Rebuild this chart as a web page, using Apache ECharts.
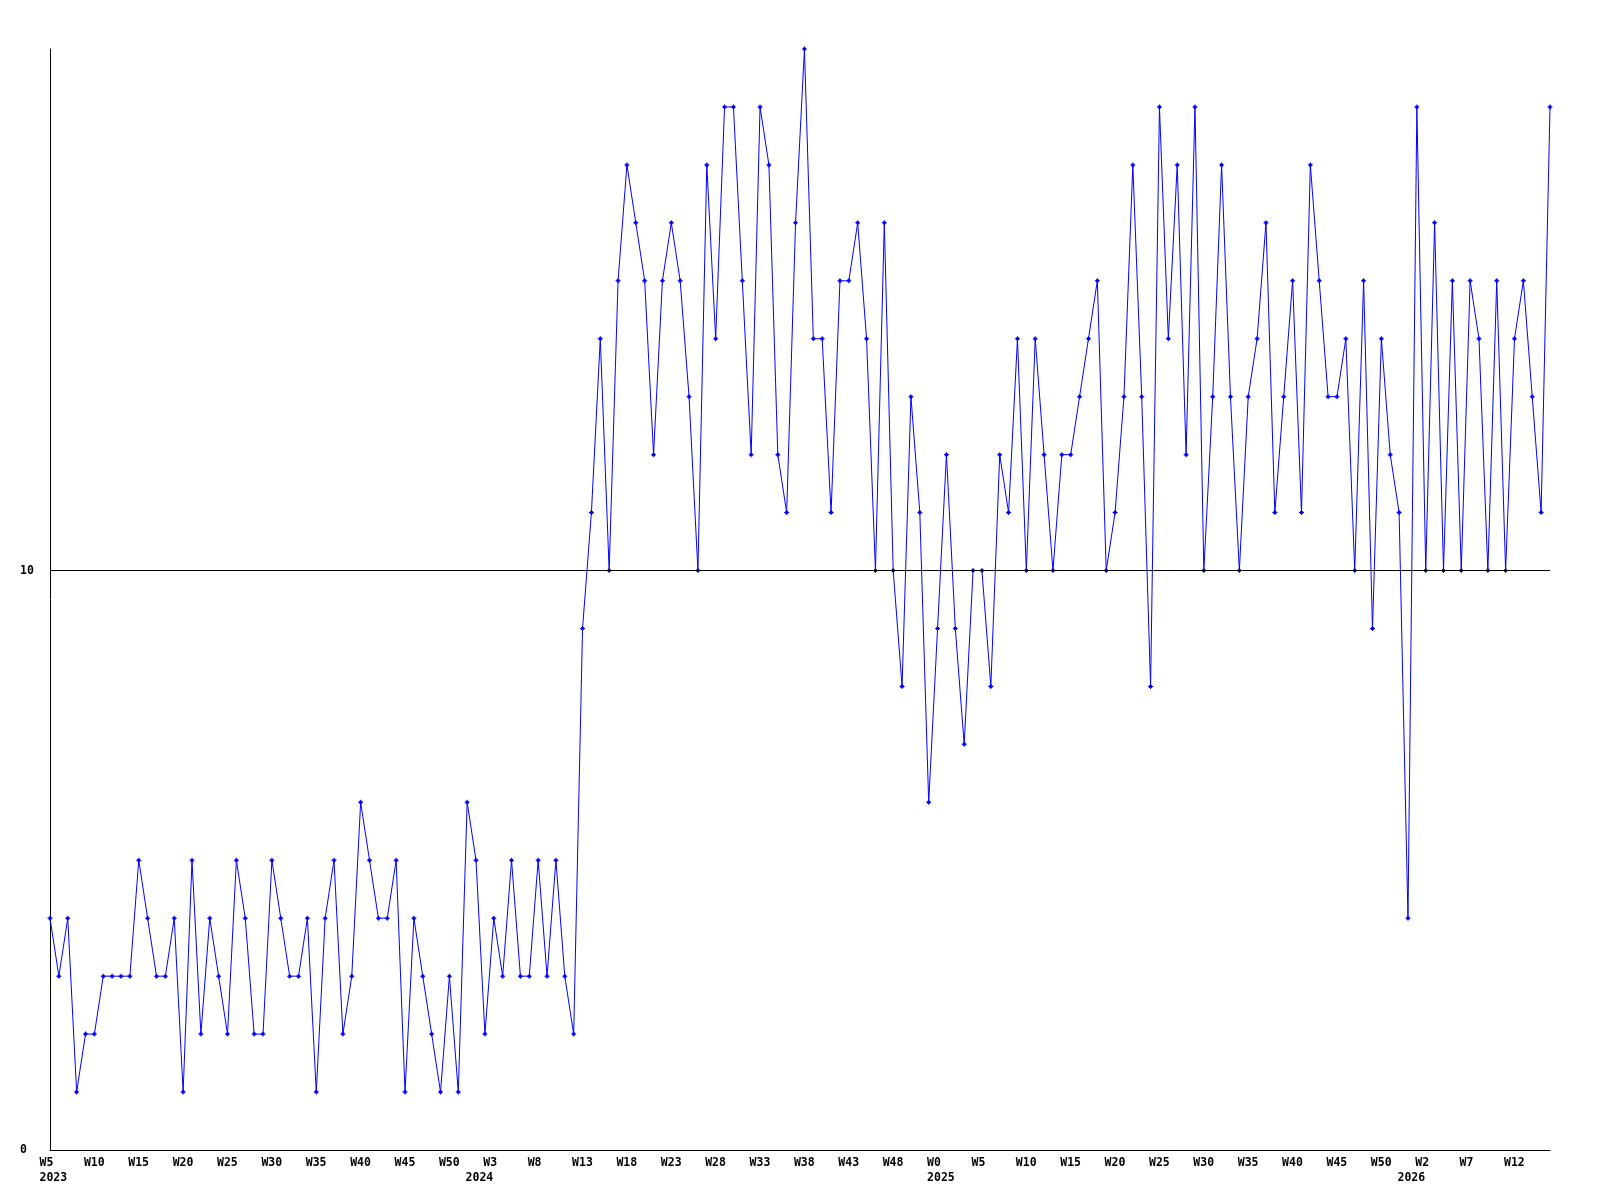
<!DOCTYPE html>
<html>
<head>
<meta charset="utf-8">
<script src="https://cdn.jsdelivr.net/npm/echarts@6/dist/echarts.min.js"></script>
<style>
html,body{margin:0;padding:0;background:#fff;}
#chart{width:1600px;height:1200px;}
</style>
</head>
<body>
<div id="chart"></div>
<script>
// Week segments per year (week numbers as printed on the axis)
const years = [2023, 2024, 2025, 2026];
const firstWeek = [5, 1, 0, 0];
const lastWeek = [52, 52, 52, 16];

// Weekly values, one per category
const values = [
  4,3,4,1,2,2,3,3,3,3,
  5,4,3,3,4,1,5,2,4,3,
  2,5,4,2,2,5,4,3,3,4,
  1,4,5,2,3,6,5,4,4,5,
  1,4,3,2,1,3,1,6,5,2,
  4,3,5,3,3,5,3,5,3,2,
  9,11,14,10,15,17,16,15,12,15,
  16,15,13,10,17,14,18,18,15,12,
  18,17,12,11,16,19,14,14,11,15,
  15,16,14,10,16,10,8,13,11,6,
  9,12,9,7,10,10,8,12,11,14,
  10,14,12,10,12,12,13,14,15,10,
  11,13,17,13,8,18,14,17,12,18,
  10,13,17,13,10,13,14,16,11,13,
  15,11,17,15,13,13,14,10,15,9,
  14,12,11,4,18,10,16,10,15,10,
  15,14,10,15,10,14,15,13,11,18
];

const yMin = 0, yMax = 19, yInterval = 10;
const refLineValue = 10;

// Build categories
const weekLabels = [];
const yearLabels = [];
for (let y = 0; y < years.length; y++) {
  for (let w = firstWeek[y]; w <= lastWeek[y]; w++) {
    weekLabels.push('W' + w);
    yearLabels.push(w === firstWeek[y] ? String(years[y]) : '');
  }
}
const categories = weekLabels.map((w, i) => i);

const FONT = "'DejaVu Sans Mono', 'Liberation Mono', monospace";

const chart = echarts.init(document.getElementById('chart'), null, {renderer: 'canvas'});
chart.setOption({
  animation: false,
  backgroundColor: '#ffffff',
  grid: {left: 50, right: 50, top: 49, bottom: 50, containLabel: false},
  xAxis: {
    type: 'category',
    data: categories,
    boundaryGap: false,
    axisLine: {show: true, lineStyle: {color: '#000', width: 1}},
    axisTick: {show: false},
    splitLine: {show: false},
    axisLabel: {
      show: true,
      interval: (i) => i % 5 === 0 || yearLabels[i] !== '',
      margin: 6,
      align: 'center',
      formatter: (val, i) => {
        const idx = Number(val);
        const wk = idx % 5 === 0 ? weekLabels[idx] : ' ';
        const yr = yearLabels[idx] !== '' ? yearLabels[idx] : ' ';
        return '{a|' + wk + '}\n{a|' + yr + '}';
      },
      rich: {
        a: {width: 21, align: 'left', fontFamily: FONT, fontSize: 11.5, fontWeight: 'bold', lineHeight: 15, color: '#000'}
      }
    }
  },
  yAxis: {
    type: 'value',
    min: yMin, max: yMax, interval: yInterval,
    axisLine: {show: true, lineStyle: {color: '#000', width: 1}},
    axisTick: {show: false},
    splitLine: {show: false},
    axisLabel: {
      show: true, showMaxLabel: false, align: 'left', margin: 30,
      fontFamily: FONT, fontSize: 11.5, fontWeight: 'bold', color: '#000'
    }
  },
  series: [{
    type: 'line',
    data: values,
    showAllSymbol: true,
    symbol: 'path://M2,0L3,0L3,1L4,1L4,2L5,2L5,3L4,3L4,4L3,4L3,5L2,5L2,4L1,4L1,3L0,3L0,2L1,2L1,1L2,1Z',
    symbolSize: 5,
    itemStyle: {color: '#0000ff'},
    lineStyle: {color: '#0000ff', width: 1},
    markLine: {
      silent: true,
      symbol: ['none', 'none'],
      label: {show: false},
      lineStyle: {color: '#000', type: 'solid', width: 1},
      data: [{yAxis: refLineValue}]
    }
  }]
});
</script>
</body>
</html>
